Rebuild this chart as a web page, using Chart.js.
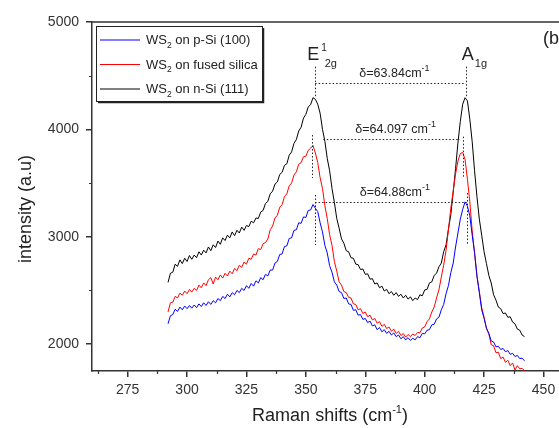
<!DOCTYPE html>
<html>
<head>
<meta charset="utf-8">
<script src="https://cdn.jsdelivr.net/npm/chart.js@4.4.0/dist/chart.umd.min.js"></script>
<style>
  html, body { margin: 0; padding: 0; background: #fff; overflow: hidden; }
  canvas { display: block; }
</style>
</head>
<body>
<canvas id="raman" width="580" height="428"></canvas>
<script>
// Raman shift (cm-1), one point per wavenumber
const shifts = [
  292, 293, 294, 295, 296, 297, 298, 299, 300, 301, 302, 303, 304, 305, 306, 307, 308, 309, 310, 311,
  312, 313, 314, 315, 316, 317, 318, 319, 320, 321, 322, 323, 324, 325, 326, 327, 328, 329, 330, 331,
  332, 333, 334, 335, 336, 337, 338, 339, 340, 341, 342, 343, 344, 345, 346, 347, 348, 349, 350, 351,
  352, 353, 354, 355, 356, 357, 358, 359, 360, 361, 362, 363, 364, 365, 366, 367, 368, 369, 370, 371,
  372, 373, 374, 375, 376, 377, 378, 379, 380, 381, 382, 383, 384, 385, 386, 387, 388, 389, 390, 391,
  392, 393, 394, 395, 396, 397, 398, 399, 400, 401, 402, 403, 404, 405, 406, 407, 408, 409, 410, 411,
  412, 413, 414, 415, 416, 417, 418, 419, 420, 421, 422, 423, 424, 425, 426, 427, 428, 429, 430, 431,
  432, 433, 434, 435, 436, 437, 438, 439, 440, 441, 442
];

// WS2 on p-Si (100)
const pSi = [
  2190, 2265, 2275, 2325, 2305, 2345, 2320, 2355, 2330, 2360, 2335, 2365, 2340, 2375, 2350, 2385, 2360, 2395, 2370, 2405,
  2385, 2425, 2405, 2445, 2425, 2465, 2440, 2480, 2460, 2500, 2480, 2520, 2500, 2545, 2520, 2565, 2540, 2590, 2570, 2620,
  2600, 2650, 2635, 2690, 2690, 2755, 2770, 2835, 2840, 2910, 2915, 2985, 2990, 3060, 3065, 3130, 3125, 3185, 3180, 3245,
  3250, 3300, 3265, 3235, 3130, 3045, 2920, 2850, 2730, 2670, 2580, 2550, 2490, 2480, 2425, 2430, 2375, 2370, 2315, 2320,
  2270, 2275, 2230, 2240, 2200, 2215, 2170, 2180, 2135, 2155, 2115, 2135, 2100, 2120, 2085, 2105, 2070, 2085, 2050, 2070,
  2040, 2060, 2035, 2055, 2040, 2070, 2060, 2100, 2095, 2130, 2135, 2180, 2185, 2235, 2250, 2320, 2370, 2470, 2545, 2665,
  2755, 2905, 3035, 3165, 3255, 3325, 3285, 3195, 3015, 2855, 2635, 2480, 2320, 2240, 2150, 2100, 2030, 2020, 1975, 1980,
  1950, 1960, 1930, 1940, 1905, 1915, 1885, 1895, 1865, 1870, 1845
];

// WS2 on fused silica
const fusedSilica = [
  2300, 2385, 2390, 2445, 2430, 2475, 2455, 2495, 2470, 2510, 2485, 2520, 2500, 2550, 2525, 2570, 2545, 2600, 2620, 2560,
  2625, 2600, 2645, 2615, 2660, 2635, 2680, 2655, 2705, 2685, 2735, 2715, 2765, 2745, 2800, 2790, 2840, 2830, 2890, 2880,
  2935, 2945, 2980, 3065, 3100, 3175, 3200, 3275, 3300, 3375, 3400, 3475, 3500, 3575, 3605, 3675, 3690, 3745, 3750, 3805,
  3825, 3850, 3780, 3690, 3550, 3450, 3290, 3170, 3020, 2920, 2770, 2680, 2580, 2550, 2490, 2480, 2435, 2430, 2375, 2370,
  2320, 2330, 2285, 2300, 2255, 2270, 2225, 2240, 2195, 2210, 2165, 2185, 2145, 2160, 2120, 2140, 2100, 2120, 2080, 2100,
  2065, 2090, 2070, 2095, 2080, 2110, 2105, 2150, 2160, 2210, 2235, 2300, 2345, 2430, 2505, 2625, 2735, 2875, 3065, 3265,
  3425, 3585, 3705, 3775, 3785, 3720, 3535, 3325, 3055, 2845, 2635, 2490, 2340, 2250, 2145, 2095, 1995, 1985, 1920, 1925,
  1865, 1880, 1830, 1850, 1800, 1825, 1760, 1800, 1770, 1775, 1752
];

// WS2 on n-Si (111)
const nSi = [
  2575, 2660, 2670, 2745, 2725, 2785, 2750, 2800, 2770, 2825, 2790, 2830, 2805, 2860, 2830, 2875, 2850, 2905, 2870, 2925,
  2900, 2960, 2930, 2990, 2965, 3015, 2990, 3045, 3010, 3060, 3035, 3090, 3060, 3105, 3095, 3145, 3130, 3175, 3170, 3230,
  3245, 3310, 3330, 3400, 3425, 3490, 3510, 3580, 3600, 3665, 3680, 3760, 3790, 3870, 3905, 3985, 4020, 4105, 4140, 4210,
  4230, 4295, 4280, 4235, 4150, 4000, 3890, 3730, 3615, 3450, 3320, 3170, 3080, 2980, 2940, 2870, 2860, 2805, 2800, 2745,
  2740, 2695, 2700, 2650, 2655, 2605, 2610, 2560, 2570, 2525, 2540, 2495, 2510, 2470, 2490, 2455, 2480, 2445, 2465, 2430,
  2455, 2420, 2440, 2405, 2430, 2415, 2460, 2450, 2505, 2510, 2570, 2580, 2640, 2660, 2720, 2755, 2860, 2925, 3070, 3205,
  3415, 3635, 3875, 4075, 4235, 4295, 4265, 4095, 3885, 3615, 3375, 3165, 3015, 2860, 2750, 2640, 2570, 2460, 2410, 2345,
  2330, 2285, 2290, 2250, 2255, 2205, 2190, 2140, 2130, 2085, 2070
];

const seriesNames = ['WS\u2082 on p-Si (100)', 'WS\u2082 on fused silica', 'WS\u2082 on n-Si (111)'];
const seriesColors = ['#0000ff', '#ff0000', '#000000'];
const seriesValues = [pSi, fusedSilica, nSi];

const xTicks = [275, 300, 325, 350, 375, 400, 425, 450];
const xMinor = [262.5, 287.5, 312.5, 337.5, 362.5, 387.5, 412.5, 437.5];
const yTicks = [2000, 3000, 4000, 5000];
const yMinor = [2500, 3500, 4500];

// peak markers (black, red, blue): E2g / A1g positions and the δ levels
const eShift = [353.9, 352.5, 353.9];
const aShift = [417.3, 416.3, 417.7];
const eSpan = [[4584, 4304], [3947, 3547], [3389, 2923]];
const aSpan = [[4584, 4304], [3932, 3559], [3407, 2923]];
const deltaLevel = [4430, 3908, 3326];
const deltaFrom = [353.9, 357.3, 353.9];
const deltaTo = [417.3, 414.9, 417.7];
const deltaText = ['\u03b4=63.84cm', '\u03b4=64.097 cm', '\u03b4=64.88cm'];

const FONT = '"Liberation Sans", Arial, sans-serif';
Chart.defaults.font.family = FONT;

function f(size) { return size + 'px ' + FONT; }

// text + superscript/subscript pieces, left aligned
function pieces(ctx, x, y, parts) {
  ctx.textAlign = 'left';
  ctx.textBaseline = 'alphabetic';
  for (const p of parts) {
    ctx.font = f(p.size);
    ctx.fillText(p.t, x, y + (p.dy || 0));
    x += ctx.measureText(p.t).width + (p.gap || 0);
  }
  return x;
}
function piecesWidth(ctx, parts) {
  let w = 0;
  for (const p of parts) { ctx.font = f(p.size); w += ctx.measureText(p.t).width + (p.gap || 0); }
  return w;
}

const decor = {
  id: 'decor',
  afterDraw(chart) {
    const { ctx, chartArea: a, scales: { x, y } } = chart;
    ctx.save();

    // frame top / right
    ctx.strokeStyle = '#333';
    ctx.lineWidth = 1.5;
    ctx.beginPath();
    ctx.moveTo(a.left, a.top);
    ctx.lineTo(a.right, a.top);
    ctx.lineTo(a.right, a.bottom);
    ctx.stroke();

    // minor ticks
    ctx.lineWidth = 1.2;
    ctx.beginPath();
    xMinor.forEach(v => {
      const px = Math.round(x.getPixelForValue(v)) + 0.5;
      ctx.moveTo(px, a.bottom);
      ctx.lineTo(px, a.bottom + 3);
    });
    yMinor.forEach(v => {
      const py = Math.round(y.getPixelForValue(v)) + 0.5;
      ctx.moveTo(a.left, py);
      ctx.lineTo(a.left - 3, py);
    });
    ctx.stroke();

    // dotted peak markers
    ctx.strokeStyle = '#222';
    ctx.lineWidth = 1;
    ctx.setLineDash([1.5, 2]);
    ctx.beginPath();
    for (let i = 0; i < 3; i++) {
      const ex = Math.round(x.getPixelForValue(eShift[i])) + 0.5;
      const ax = Math.round(x.getPixelForValue(aShift[i])) + 0.5;
      ctx.moveTo(ex, y.getPixelForValue(eSpan[i][0]));
      ctx.lineTo(ex, y.getPixelForValue(eSpan[i][1]));
      ctx.moveTo(ax, y.getPixelForValue(aSpan[i][0]));
      ctx.lineTo(ax, y.getPixelForValue(aSpan[i][1]));
      const hy = Math.round(y.getPixelForValue(deltaLevel[i])) + 0.5;
      ctx.moveTo(x.getPixelForValue(deltaFrom[i]), hy);
      ctx.lineTo(x.getPixelForValue(deltaTo[i]), hy);
    }
    ctx.stroke();
    ctx.setLineDash([]);

    // δ labels
    ctx.fillStyle = '#222';
    for (let i = 0; i < 3; i++) {
      const parts = [{ t: deltaText[i], size: 12.5 }, { t: '-1', size: 9, dy: -6 }];
      const mid = (x.getPixelForValue(deltaFrom[i]) + x.getPixelForValue(deltaTo[i])) / 2 + 4;
      const w = piecesWidth(ctx, parts);
      pieces(ctx, mid - w / 2, y.getPixelForValue(deltaLevel[i]) - 6, parts);
    }

    // mode labels
    const ePx = x.getPixelForValue(eShift[0]);
    const aPx = x.getPixelForValue(aShift[0]);
    const topPx = y.getPixelForValue(eSpan[0][0]);
    ctx.font = f(18);
    ctx.fillText('E', ePx - 8, topPx - 6.5);
    ctx.font = f(10);
    ctx.fillText('1', ePx + 6, topPx - 16);
    ctx.font = f(11);
    ctx.fillText('2g', ePx + 9.5, topPx);
    ctx.font = f(18);
    ctx.fillText('A', aPx - 4, topPx - 6.5);
    ctx.font = f(11);
    ctx.fillText('1g', aPx + 9, topPx);

    // panel tag
    ctx.font = f(18);
    ctx.fillText('(b)', 543, 44);

    // legend box
    const lx = 96, ly = 26, lw = 166, lh = 75;
    ctx.fillStyle = '#fff';
    ctx.fillRect(lx, ly, lw, lh);
    ctx.strokeStyle = '#222';
    ctx.lineWidth = 1;
    ctx.strokeRect(lx + 0.5, ly + 0.5, lw, lh);
    ctx.lineWidth = 1.5;
    ctx.beginPath();
    ctx.moveTo(lx + lw + 1.5, ly + 2);
    ctx.lineTo(lx + lw + 1.5, ly + lh + 1.5);
    ctx.lineTo(lx + 2, ly + lh + 1.5);
    ctx.stroke();
    chart.data.datasets.forEach((ds, i) => {
      const rowY = 39.5 + i * 24.5;
      ctx.strokeStyle = ds.borderColor;
      ctx.lineWidth = 1;
      ctx.beginPath();
      ctx.moveTo(100, rowY + 0.5);
      ctx.lineTo(140, rowY + 0.5);
      ctx.stroke();
      const [head, tail] = ds.label.split('\u2082');
      ctx.fillStyle = '#222';
      pieces(ctx, 146, rowY + 4.5, [
        { t: head, size: 13 },
        { t: '2', size: 8.5, dy: 3.5 },
        { t: tail, size: 13 }
      ]);
    });

    // axis titles
    ctx.fillStyle = '#222';
    const xt = [{ t: 'Raman shifts (cm', size: 18 }, { t: '-1', size: 11, dy: -8 }, { t: ')', size: 18 }];
    const xw = piecesWidth(ctx, xt);
    pieces(ctx, 330 - xw / 2, 421, xt);

    ctx.translate(31, 209);
    ctx.rotate(-Math.PI / 2);
    ctx.font = f(18);
    ctx.textAlign = 'center';
    ctx.fillText('intensity (a.u)', 0, 0);

    ctx.restore();
  }
};

const ctx = document.getElementById('raman').getContext('2d');
new Chart(ctx, {
  type: 'line',
  data: {
    datasets: seriesValues.map((vals, i) => ({
      label: seriesNames[i],
      data: shifts.map((s, j) => ({ x: s, y: vals[j] })),
      borderColor: seriesColors[i],
      borderWidth: 1,
      pointRadius: 0,
      tension: 0,
      fill: false
    }))
  },
  options: {
    responsive: false,
    animation: false,
    devicePixelRatio: 1,
    layout: { padding: { left: 0, top: 22, right: 8, bottom: 0 } },
    plugins: { legend: { display: false }, tooltip: { enabled: false } },
    scales: {
      x: {
        type: 'linear',
        min: 260,
        max: 462,
        afterBuildTicks: s => { s.ticks = xTicks.map(v => ({ value: v })); },
        afterFit: s => { s.height = 57; },
        grid: { drawOnChartArea: false, tickLength: 6, color: '#333', lineWidth: 1.5 },
        border: { color: '#333', width: 1.5 },
        ticks: { font: { size: 14 }, color: '#333', padding: 5, autoSkip: false, maxRotation: 0,
                 callback: v => String(v) }
      },
      y: {
        min: 1750,
        max: 5000,
        afterBuildTicks: s => { s.ticks = yTicks.map(v => ({ value: v })); },
        afterFit: s => { s.width = 92; },
        grid: { drawOnChartArea: false, tickLength: 6, color: '#333', lineWidth: 1.5 },
        border: { color: '#333', width: 1.5 },
        ticks: { font: { size: 14 }, color: '#333', padding: 7, autoSkip: false,
                 callback: v => String(v) }
      }
    }
  },
  plugins: [decor]
});
</script>
</body>
</html>
